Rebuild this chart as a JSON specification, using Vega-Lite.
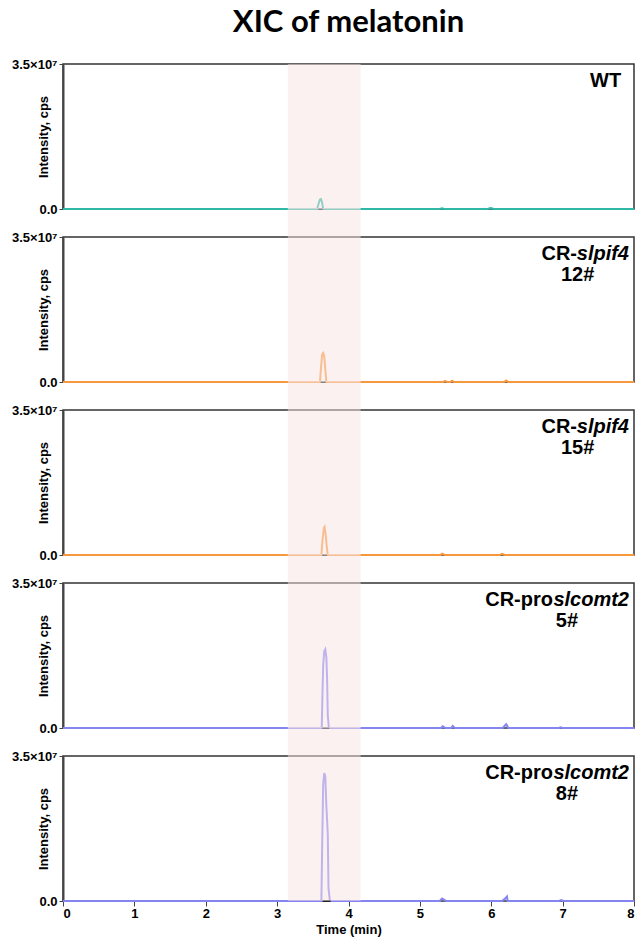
{
  "$schema": "https://vega.github.io/schema/vega-lite/v6.json",
  "padding": {"left": 10, "right": 0, "top": 6, "bottom": 2},
  "spacing": -10,
  "datasets": {
    "traces": [
      {"s": "WT", "t": 0, "v": 0}, {"s": "WT", "t": 3.56, "v": 0}, {"s": "WT", "t": 3.58, "v": 1200000}, {"s": "WT", "t": 3.6, "v": 2300000}, {"s": "WT", "t": 3.615, "v": 2400000}, {"s": "WT", "t": 3.63, "v": 1600000}, {"s": "WT", "t": 3.645, "v": 0}, {"s": "WT", "t": 5.28, "v": 0}, {"s": "WT", "t": 5.31, "v": 150000}, {"s": "WT", "t": 5.34, "v": 0}, {"s": "WT", "t": 5.95, "v": 0}, {"s": "WT", "t": 5.99, "v": 250000}, {"s": "WT", "t": 6.04, "v": 0}, {"s": "WT", "t": 8, "v": 0},
      {"s": "12#", "t": 0, "v": 0}, {"s": "12#", "t": 3.6, "v": 0}, {"s": "12#", "t": 3.615, "v": 3500000}, {"s": "12#", "t": 3.63, "v": 6600000}, {"s": "12#", "t": 3.645, "v": 7000000}, {"s": "12#", "t": 3.66, "v": 6200000}, {"s": "12#", "t": 3.675, "v": 3000000}, {"s": "12#", "t": 3.69, "v": 0}, {"s": "12#", "t": 5.33, "v": 0}, {"s": "12#", "t": 5.35, "v": 250000}, {"s": "12#", "t": 5.38, "v": 0}, {"s": "12#", "t": 5.43, "v": 0}, {"s": "12#", "t": 5.45, "v": 300000}, {"s": "12#", "t": 5.48, "v": 0}, {"s": "12#", "t": 6.18, "v": 0}, {"s": "12#", "t": 6.21, "v": 350000}, {"s": "12#", "t": 6.24, "v": 0}, {"s": "12#", "t": 8, "v": 0},
      {"s": "15#", "t": 0, "v": 0}, {"s": "15#", "t": 3.62, "v": 0}, {"s": "15#", "t": 3.635, "v": 3500000}, {"s": "15#", "t": 3.655, "v": 6500000}, {"s": "15#", "t": 3.665, "v": 6800000}, {"s": "15#", "t": 3.68, "v": 5000000}, {"s": "15#", "t": 3.695, "v": 2000000}, {"s": "15#", "t": 3.71, "v": 0}, {"s": "15#", "t": 5.29, "v": 0}, {"s": "15#", "t": 5.31, "v": 300000}, {"s": "15#", "t": 5.35, "v": 0}, {"s": "15#", "t": 6.12, "v": 0}, {"s": "15#", "t": 6.15, "v": 300000}, {"s": "15#", "t": 6.19, "v": 0}, {"s": "15#", "t": 8, "v": 0},
      {"s": "5#", "t": 0, "v": 0}, {"s": "5#", "t": 3.625, "v": 0}, {"s": "5#", "t": 3.635, "v": 8000000}, {"s": "5#", "t": 3.645, "v": 15000000}, {"s": "5#", "t": 3.66, "v": 18500000}, {"s": "5#", "t": 3.675, "v": 19000000}, {"s": "5#", "t": 3.69, "v": 17000000}, {"s": "5#", "t": 3.7, "v": 12000000}, {"s": "5#", "t": 3.71, "v": 3000000}, {"s": "5#", "t": 3.725, "v": 0}, {"s": "5#", "t": 5.3, "v": 0}, {"s": "5#", "t": 5.32, "v": 400000}, {"s": "5#", "t": 5.36, "v": 0}, {"s": "5#", "t": 5.44, "v": 0}, {"s": "5#", "t": 5.46, "v": 500000}, {"s": "5#", "t": 5.49, "v": 0}, {"s": "5#", "t": 6.16, "v": 0}, {"s": "5#", "t": 6.21, "v": 900000}, {"s": "5#", "t": 6.24, "v": 0}, {"s": "5#", "t": 6.95, "v": 0}, {"s": "5#", "t": 6.97, "v": 150000}, {"s": "5#", "t": 7.0, "v": 0}, {"s": "5#", "t": 8, "v": 0},
      {"s": "8#", "t": 0, "v": 0}, {"s": "8#", "t": 3.62, "v": 0}, {"s": "8#", "t": 3.63, "v": 12000000}, {"s": "8#", "t": 3.645, "v": 28000000}, {"s": "8#", "t": 3.66, "v": 30900000}, {"s": "8#", "t": 3.675, "v": 30000000}, {"s": "8#", "t": 3.69, "v": 23000000}, {"s": "8#", "t": 3.71, "v": 16000000}, {"s": "8#", "t": 3.72, "v": 3000000}, {"s": "8#", "t": 3.74, "v": 0}, {"s": "8#", "t": 5.28, "v": 0}, {"s": "8#", "t": 5.31, "v": 600000}, {"s": "8#", "t": 5.33, "v": 400000}, {"s": "8#", "t": 5.37, "v": 0}, {"s": "8#", "t": 6.15, "v": 0}, {"s": "8#", "t": 6.19, "v": 500000}, {"s": "8#", "t": 6.22, "v": 1100000}, {"s": "8#", "t": 6.23, "v": 0}, {"s": "8#", "t": 6.95, "v": 0}, {"s": "8#", "t": 6.98, "v": 200000}, {"s": "8#", "t": 7.01, "v": 0}, {"s": "8#", "t": 8, "v": 0}
    ],
    "integration": [
      {"s": "WT", "start": 3.58, "end": 3.64},
      {"s": "12#", "start": 3.61, "end": 3.68},
      {"s": "15#", "start": 3.63, "end": 3.7},
      {"s": "5#", "start": 3.63, "end": 3.73},
      {"s": "8#", "start": 3.64, "end": 3.75}
    ],
    "band": [{"start": 3.15, "end": 4.17}],
    "labels": [
      {"s": "title", "part": "title", "text": "XIC of melatonin"},
      {"s": "WT", "part": "plain", "text": "WT"},
      {"s": "12#", "part": "pre", "text": "CR-"}, {"s": "12#", "part": "gene", "text": "slpif4"}, {"s": "12#", "part": "line", "text": "12#"},
      {"s": "15#", "part": "pre", "text": "CR-"}, {"s": "15#", "part": "gene", "text": "slpif4"}, {"s": "15#", "part": "line", "text": "15#"},
      {"s": "5#", "part": "pre", "text": "CR-pro"}, {"s": "5#", "part": "gene", "text": "slcomt2"}, {"s": "5#", "part": "line", "text": "5#"},
      {"s": "8#", "part": "pre", "text": "CR-pro"}, {"s": "8#", "part": "gene", "text": "slcomt2"}, {"s": "8#", "part": "line", "text": "8#"}
    ]
  },
  "vconcat": [
    {
      "width": 571, "height": 145,
      "layer": [
        {"data": {"name": "traces"}, "transform": [{"filter": "datum.s == 'WT'"}], "mark": {"type": "line", "color": "#2fb8a8", "strokeWidth": 2},
         "encoding": {"x": {"field": "t", "type": "quantitative", "scale": {"domain": [0, 8], "nice": false}, "axis": null},
                      "y": {"field": "v", "type": "quantitative", "scale": {"domain": [0, 35000000], "nice": false}, "axis": {"title": "Intensity, cps", "values": [0, 35000000]}}}},
        {"data": {"name": "integration"}, "transform": [{"filter": "datum.s == 'WT'"}], "mark": {"type": "rule", "color": "#222", "strokeWidth": 2},
         "encoding": {"x": {"field": "start", "type": "quantitative", "scale": {"domain": [0, 8], "nice": false}, "axis": null}, "x2": {"field": "end"},
                      "y": {"datum": 0, "type": "quantitative", "scale": {"domain": [0, 35000000], "nice": false}, "axis": {"title": "Intensity, cps", "values": [0, 35000000]}}}},
        {"data": {"name": "labels"}, "transform": [{"filter": "datum.s == 'title'"}], "mark": {"type": "text", "font": "Lato", "fontSize": 31, "fontWeight": "bold", "align": "center", "baseline": "middle", "color": "#000"},
         "encoding": {"text": {"field": "text"}, "x": {"datum": 4, "type": "quantitative", "scale": {"domain": [0, 8], "nice": false}, "axis": null},
                      "y": {"datum": 44900000, "type": "quantitative", "scale": {"domain": [0, 35000000], "nice": false}, "axis": {"title": "Intensity, cps", "values": [0, 35000000]}}}},
        {"data": {"name": "labels"}, "transform": [{"filter": "datum.s == 'WT'"}], "mark": {"type": "text", "font": "Liberation Sans", "fontSize": 20, "fontWeight": "bold", "align": "right", "baseline": "middle", "color": "#000"},
         "encoding": {"text": {"field": "text"}, "x": {"datum": 7.82, "type": "quantitative", "scale": {"domain": [0, 8], "nice": false}, "axis": null},
                      "y": {"datum": 30900000, "type": "quantitative", "scale": {"domain": [0, 35000000], "nice": false}, "axis": {"title": "Intensity, cps", "values": [0, 35000000]}}}},
        {"data": {"name": "band"}, "mark": {"type": "rect", "color": "#f8e3e3", "opacity": 0.5},
         "encoding": {"x": {"field": "start", "type": "quantitative", "scale": {"domain": [0, 8], "nice": false}, "axis": null}, "x2": {"field": "end"},
                      "y": {"datum": 0, "type": "quantitative", "scale": {"domain": [0, 35000000], "nice": false}, "axis": {"title": "Intensity, cps", "values": [0, 35000000]}}, "y2": {"datum": 35000000}}}
      ]
    },
    {
      "width": 571, "height": 145,
      "layer": [
        {"data": {"name": "traces"}, "transform": [{"filter": "datum.s == '12#'"}], "mark": {"type": "line", "color": "#f7983e", "strokeWidth": 2},
         "encoding": {"x": {"field": "t", "type": "quantitative", "scale": {"domain": [0, 8], "nice": false}, "axis": null},
                      "y": {"field": "v", "type": "quantitative", "scale": {"domain": [0, 35000000], "nice": false}, "axis": {"title": "Intensity, cps", "values": [0, 35000000]}}}},
        {"data": {"name": "integration"}, "transform": [{"filter": "datum.s == '12#'"}], "mark": {"type": "rule", "color": "#222", "strokeWidth": 2},
         "encoding": {"x": {"field": "start", "type": "quantitative", "scale": {"domain": [0, 8], "nice": false}, "axis": null}, "x2": {"field": "end"},
                      "y": {"datum": 0, "type": "quantitative", "scale": {"domain": [0, 35000000], "nice": false}, "axis": {"title": "Intensity, cps", "values": [0, 35000000]}}}},
        {"data": {"name": "labels"}, "transform": [{"filter": "datum.s == '12#' && datum.part == 'pre'"}], "mark": {"type": "text", "font": "Liberation Sans", "fontSize": 20, "fontWeight": "bold", "align": "right", "baseline": "middle", "dx": -52, "color": "#000"},
         "encoding": {"text": {"field": "text"}, "x": {"datum": 7.93, "type": "quantitative", "scale": {"domain": [0, 8], "nice": false}, "axis": null},
                      "y": {"datum": 30900000, "type": "quantitative", "scale": {"domain": [0, 35000000], "nice": false}, "axis": {"title": "Intensity, cps", "values": [0, 35000000]}}}},
        {"data": {"name": "labels"}, "transform": [{"filter": "datum.s == '12#' && datum.part == 'gene'"}], "mark": {"type": "text", "font": "Liberation Sans", "fontSize": 20, "fontWeight": "bold", "fontStyle": "italic", "align": "right", "baseline": "middle", "color": "#000"},
         "encoding": {"text": {"field": "text"}, "x": {"datum": 7.93, "type": "quantitative", "scale": {"domain": [0, 8], "nice": false}, "axis": null},
                      "y": {"datum": 30900000, "type": "quantitative", "scale": {"domain": [0, 35000000], "nice": false}, "axis": {"title": "Intensity, cps", "values": [0, 35000000]}}}},
        {"data": {"name": "labels"}, "transform": [{"filter": "datum.s == '12#' && datum.part == 'line'"}], "mark": {"type": "text", "font": "Liberation Sans", "fontSize": 20, "fontWeight": "bold", "align": "center", "baseline": "middle", "color": "#000"},
         "encoding": {"text": {"field": "text"}, "x": {"datum": 7.21, "type": "quantitative", "scale": {"domain": [0, 8], "nice": false}, "axis": null},
                      "y": {"datum": 25800000, "type": "quantitative", "scale": {"domain": [0, 35000000], "nice": false}, "axis": {"title": "Intensity, cps", "values": [0, 35000000]}}}},
        {"data": {"name": "band"}, "mark": {"type": "rect", "color": "#f8e3e3", "opacity": 0.5},
         "encoding": {"x": {"field": "start", "type": "quantitative", "scale": {"domain": [0, 8], "nice": false}, "axis": null}, "x2": {"field": "end"},
                      "y": {"datum": 0, "type": "quantitative", "scale": {"domain": [0, 35000000], "nice": false}, "axis": {"title": "Intensity, cps", "values": [0, 35000000]}}, "y2": {"datum": 42000000}}}
      ]
    },
    {
      "width": 571, "height": 145,
      "layer": [
        {"data": {"name": "traces"}, "transform": [{"filter": "datum.s == '15#'"}], "mark": {"type": "line", "color": "#f7983e", "strokeWidth": 2},
         "encoding": {"x": {"field": "t", "type": "quantitative", "scale": {"domain": [0, 8], "nice": false}, "axis": null},
                      "y": {"field": "v", "type": "quantitative", "scale": {"domain": [0, 35000000], "nice": false}, "axis": {"title": "Intensity, cps", "values": [0, 35000000]}}}},
        {"data": {"name": "integration"}, "transform": [{"filter": "datum.s == '15#'"}], "mark": {"type": "rule", "color": "#222", "strokeWidth": 2},
         "encoding": {"x": {"field": "start", "type": "quantitative", "scale": {"domain": [0, 8], "nice": false}, "axis": null}, "x2": {"field": "end"},
                      "y": {"datum": 0, "type": "quantitative", "scale": {"domain": [0, 35000000], "nice": false}, "axis": {"title": "Intensity, cps", "values": [0, 35000000]}}}},
        {"data": {"name": "labels"}, "transform": [{"filter": "datum.s == '15#' && datum.part == 'pre'"}], "mark": {"type": "text", "font": "Liberation Sans", "fontSize": 20, "fontWeight": "bold", "align": "right", "baseline": "middle", "dx": -52, "color": "#000"},
         "encoding": {"text": {"field": "text"}, "x": {"datum": 7.93, "type": "quantitative", "scale": {"domain": [0, 8], "nice": false}, "axis": null},
                      "y": {"datum": 30900000, "type": "quantitative", "scale": {"domain": [0, 35000000], "nice": false}, "axis": {"title": "Intensity, cps", "values": [0, 35000000]}}}},
        {"data": {"name": "labels"}, "transform": [{"filter": "datum.s == '15#' && datum.part == 'gene'"}], "mark": {"type": "text", "font": "Liberation Sans", "fontSize": 20, "fontWeight": "bold", "fontStyle": "italic", "align": "right", "baseline": "middle", "color": "#000"},
         "encoding": {"text": {"field": "text"}, "x": {"datum": 7.93, "type": "quantitative", "scale": {"domain": [0, 8], "nice": false}, "axis": null},
                      "y": {"datum": 30900000, "type": "quantitative", "scale": {"domain": [0, 35000000], "nice": false}, "axis": {"title": "Intensity, cps", "values": [0, 35000000]}}}},
        {"data": {"name": "labels"}, "transform": [{"filter": "datum.s == '15#' && datum.part == 'line'"}], "mark": {"type": "text", "font": "Liberation Sans", "fontSize": 20, "fontWeight": "bold", "align": "center", "baseline": "middle", "color": "#000"},
         "encoding": {"text": {"field": "text"}, "x": {"datum": 7.21, "type": "quantitative", "scale": {"domain": [0, 8], "nice": false}, "axis": null},
                      "y": {"datum": 25800000, "type": "quantitative", "scale": {"domain": [0, 35000000], "nice": false}, "axis": {"title": "Intensity, cps", "values": [0, 35000000]}}}},
        {"data": {"name": "band"}, "mark": {"type": "rect", "color": "#f8e3e3", "opacity": 0.5},
         "encoding": {"x": {"field": "start", "type": "quantitative", "scale": {"domain": [0, 8], "nice": false}, "axis": null}, "x2": {"field": "end"},
                      "y": {"datum": 0, "type": "quantitative", "scale": {"domain": [0, 35000000], "nice": false}, "axis": {"title": "Intensity, cps", "values": [0, 35000000]}}, "y2": {"datum": 42000000}}}
      ]
    },
    {
      "width": 571, "height": 145,
      "layer": [
        {"data": {"name": "traces"}, "transform": [{"filter": "datum.s == '5#'"}], "mark": {"type": "line", "color": "#8585f2", "strokeWidth": 2},
         "encoding": {"x": {"field": "t", "type": "quantitative", "scale": {"domain": [0, 8], "nice": false}, "axis": null},
                      "y": {"field": "v", "type": "quantitative", "scale": {"domain": [0, 35000000], "nice": false}, "axis": {"title": "Intensity, cps", "values": [0, 35000000]}}}},
        {"data": {"name": "integration"}, "transform": [{"filter": "datum.s == '5#'"}], "mark": {"type": "rule", "color": "#222", "strokeWidth": 2},
         "encoding": {"x": {"field": "start", "type": "quantitative", "scale": {"domain": [0, 8], "nice": false}, "axis": null}, "x2": {"field": "end"},
                      "y": {"datum": 0, "type": "quantitative", "scale": {"domain": [0, 35000000], "nice": false}, "axis": {"title": "Intensity, cps", "values": [0, 35000000]}}}},
        {"data": {"name": "labels"}, "transform": [{"filter": "datum.s == '5#' && datum.part == 'pre'"}], "mark": {"type": "text", "font": "Liberation Sans", "fontSize": 20, "fontWeight": "bold", "align": "right", "baseline": "middle", "dx": -76, "color": "#000"},
         "encoding": {"text": {"field": "text"}, "x": {"datum": 7.93, "type": "quantitative", "scale": {"domain": [0, 8], "nice": false}, "axis": null},
                      "y": {"datum": 30900000, "type": "quantitative", "scale": {"domain": [0, 35000000], "nice": false}, "axis": {"title": "Intensity, cps", "values": [0, 35000000]}}}},
        {"data": {"name": "labels"}, "transform": [{"filter": "datum.s == '5#' && datum.part == 'gene'"}], "mark": {"type": "text", "font": "Liberation Sans", "fontSize": 20, "fontWeight": "bold", "fontStyle": "italic", "align": "right", "baseline": "middle", "color": "#000"},
         "encoding": {"text": {"field": "text"}, "x": {"datum": 7.93, "type": "quantitative", "scale": {"domain": [0, 8], "nice": false}, "axis": null},
                      "y": {"datum": 30900000, "type": "quantitative", "scale": {"domain": [0, 35000000], "nice": false}, "axis": {"title": "Intensity, cps", "values": [0, 35000000]}}}},
        {"data": {"name": "labels"}, "transform": [{"filter": "datum.s == '5#' && datum.part == 'line'"}], "mark": {"type": "text", "font": "Liberation Sans", "fontSize": 20, "fontWeight": "bold", "align": "center", "baseline": "middle", "color": "#000"},
         "encoding": {"text": {"field": "text"}, "x": {"datum": 7.06, "type": "quantitative", "scale": {"domain": [0, 8], "nice": false}, "axis": null},
                      "y": {"datum": 25800000, "type": "quantitative", "scale": {"domain": [0, 35000000], "nice": false}, "axis": {"title": "Intensity, cps", "values": [0, 35000000]}}}},
        {"data": {"name": "band"}, "mark": {"type": "rect", "color": "#f8e3e3", "opacity": 0.5},
         "encoding": {"x": {"field": "start", "type": "quantitative", "scale": {"domain": [0, 8], "nice": false}, "axis": null}, "x2": {"field": "end"},
                      "y": {"datum": 0, "type": "quantitative", "scale": {"domain": [0, 35000000], "nice": false}, "axis": {"title": "Intensity, cps", "values": [0, 35000000]}}, "y2": {"datum": 42000000}}}
      ]
    },
    {
      "width": 571, "height": 145,
      "layer": [
        {"data": {"name": "traces"}, "transform": [{"filter": "datum.s == '8#'"}], "mark": {"type": "line", "color": "#8585f2", "strokeWidth": 2},
         "encoding": {"x": {"field": "t", "type": "quantitative", "scale": {"domain": [0, 8], "nice": false}, "axis": {"title": "Time (min)", "values": [0, 1, 2, 3, 4, 5, 6, 7, 8], "format": "d", "labelFontSize": 13, "titleFontSize": 13, "tickSize": 5, "labelPadding": 1, "titlePadding": 3, "domain": false, "labelFlush": true}},
                      "y": {"field": "v", "type": "quantitative", "scale": {"domain": [0, 35000000], "nice": false}, "axis": {"title": "Intensity, cps", "values": [0, 35000000]}}}},
        {"data": {"name": "integration"}, "transform": [{"filter": "datum.s == '8#'"}], "mark": {"type": "rule", "color": "#222", "strokeWidth": 2},
         "encoding": {"x": {"field": "start", "type": "quantitative", "scale": {"domain": [0, 8], "nice": false}, "axis": {"title": "Time (min)", "values": [0, 1, 2, 3, 4, 5, 6, 7, 8], "format": "d", "labelFontSize": 13, "titleFontSize": 13, "tickSize": 5, "labelPadding": 1, "titlePadding": 3, "domain": false, "labelFlush": true}}, "x2": {"field": "end"},
                      "y": {"datum": 0, "type": "quantitative", "scale": {"domain": [0, 35000000], "nice": false}, "axis": {"title": "Intensity, cps", "values": [0, 35000000]}}}},
        {"data": {"name": "labels"}, "transform": [{"filter": "datum.s == '8#' && datum.part == 'pre'"}], "mark": {"type": "text", "font": "Liberation Sans", "fontSize": 20, "fontWeight": "bold", "align": "right", "baseline": "middle", "dx": -76, "color": "#000"},
         "encoding": {"text": {"field": "text"}, "x": {"datum": 7.93, "type": "quantitative", "scale": {"domain": [0, 8], "nice": false}, "axis": {"title": "Time (min)", "values": [0, 1, 2, 3, 4, 5, 6, 7, 8], "format": "d", "labelFontSize": 13, "titleFontSize": 13, "tickSize": 5, "labelPadding": 1, "titlePadding": 3, "domain": false, "labelFlush": true}},
                      "y": {"datum": 30900000, "type": "quantitative", "scale": {"domain": [0, 35000000], "nice": false}, "axis": {"title": "Intensity, cps", "values": [0, 35000000]}}}},
        {"data": {"name": "labels"}, "transform": [{"filter": "datum.s == '8#' && datum.part == 'gene'"}], "mark": {"type": "text", "font": "Liberation Sans", "fontSize": 20, "fontWeight": "bold", "fontStyle": "italic", "align": "right", "baseline": "middle", "color": "#000"},
         "encoding": {"text": {"field": "text"}, "x": {"datum": 7.93, "type": "quantitative", "scale": {"domain": [0, 8], "nice": false}, "axis": {"title": "Time (min)", "values": [0, 1, 2, 3, 4, 5, 6, 7, 8], "format": "d", "labelFontSize": 13, "titleFontSize": 13, "tickSize": 5, "labelPadding": 1, "titlePadding": 3, "domain": false, "labelFlush": true}},
                      "y": {"datum": 30900000, "type": "quantitative", "scale": {"domain": [0, 35000000], "nice": false}, "axis": {"title": "Intensity, cps", "values": [0, 35000000]}}}},
        {"data": {"name": "labels"}, "transform": [{"filter": "datum.s == '8#' && datum.part == 'line'"}], "mark": {"type": "text", "font": "Liberation Sans", "fontSize": 20, "fontWeight": "bold", "align": "center", "baseline": "middle", "color": "#000"},
         "encoding": {"text": {"field": "text"}, "x": {"datum": 7.06, "type": "quantitative", "scale": {"domain": [0, 8], "nice": false}, "axis": {"title": "Time (min)", "values": [0, 1, 2, 3, 4, 5, 6, 7, 8], "format": "d", "labelFontSize": 13, "titleFontSize": 13, "tickSize": 5, "labelPadding": 1, "titlePadding": 3, "domain": false, "labelFlush": true}},
                      "y": {"datum": 25800000, "type": "quantitative", "scale": {"domain": [0, 35000000], "nice": false}, "axis": {"title": "Intensity, cps", "values": [0, 35000000]}}}},
        {"data": {"name": "band"}, "mark": {"type": "rect", "color": "#f8e3e3", "opacity": 0.5},
         "encoding": {"x": {"field": "start", "type": "quantitative", "scale": {"domain": [0, 8], "nice": false}, "axis": {"title": "Time (min)", "values": [0, 1, 2, 3, 4, 5, 6, 7, 8], "format": "d", "labelFontSize": 13, "titleFontSize": 13, "tickSize": 5, "labelPadding": 1, "titlePadding": 3, "domain": false, "labelFlush": true}}, "x2": {"field": "end"},
                      "y": {"datum": 0, "type": "quantitative", "scale": {"domain": [0, 35000000], "nice": false}, "axis": {"title": "Intensity, cps", "values": [0, 35000000]}}, "y2": {"datum": 42000000}}}
      ]
    }
  ],
  "config": {
    "view": {"stroke": "#333", "strokeWidth": 1.5},
    "axis": {"grid": false, "labelFont": "Liberation Sans", "titleFont": "Liberation Sans", "labelFontWeight": "bold", "titleFontWeight": "bold", "labelColor": "#000", "titleColor": "#000", "domainColor": "#444", "tickColor": "#444"},
    "axisY": {"labelExpr": "datum.value == 0 ? '0.0' : '3.5×10⁷'", "labelFontSize": 13, "titleFontSize": 13, "tickSize": 4, "labelPadding": 2, "domainWidth": 2, "titleX": -20, "titleY": 72.5, "titleAngle": -90, "titleAlign": "center", "titleBaseline": "middle"}
  }
}
